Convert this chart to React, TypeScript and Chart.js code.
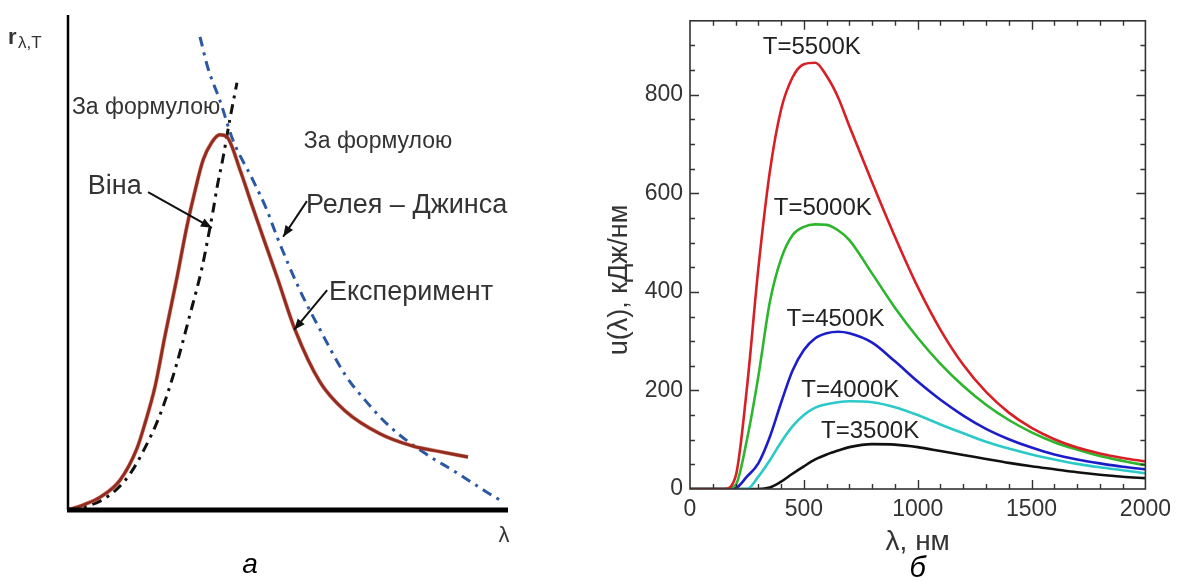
import React, { useEffect, useRef } from "react";
import { Chart, registerables } from "chart.js";
Chart.register(...registerables);

// ---------- Chart (а): schematic, arbitrary units ----------
const expX = [0, 3.4, 7.3, 11.8, 15.7, 17.5, 19.8, 22.0, 24.8, 27.0, 28.9, 30.7, 32.7, 34.5, 36.1, 39.1, 41.8, 44.3, 47.5, 51.6, 57.3, 63.0, 70.9, 78.4, 84.5, 90.9];
const expY = [0, 1.0, 2.6, 6.0, 12.5, 17.5, 25.0, 35.0, 47.1, 57.2, 64.6, 70.7, 74.3, 75.8, 75.4, 68.7, 61.6, 55.2, 47.1, 36.4, 25.8, 20.0, 15.4, 12.9, 11.8, 10.7];
const wienX = [0, 4.3, 7.3, 11.1, 14.1, 17.0, 20.9, 24.3, 27.7, 30.5, 31.8, 33.0, 33.9, 35.2, 36.8, 38.4];
const wienY = [0, 0.8, 1.8, 4.2, 7.3, 11.7, 19.2, 28.3, 39.4, 49.1, 54.9, 60.6, 65.3, 71.0, 79.0, 86.3];
const rjX = [30.0, 31.8, 34.5, 37.5, 42.0, 45.2, 47.5, 52.7, 57.3, 63.0, 67.5, 73.2, 80.7, 88.4, 95.2, 98.9];
const rjY = [95.6, 89.3, 82.8, 74.7, 66.7, 60.6, 55.2, 44.4, 36.4, 27.3, 22.2, 16.8, 11.7, 7.5, 3.6, 1.6];

// annotation texts of chart (а) and their anchors (data units)
const leftTexts = ["За формулою", "Віна", "За формулою", "Релея – Джинса", "Експеримент"];
const leftTextX = [0.9, 4.5, 53.6, 54.1, 59.3];
const leftTextY = [81.2, 65.3, 74.5, 61.6, 44.0];
const leftTextSize = [23, 27, 23, 27, 27];
const arrowFromX = [18.2, 54.3, 58.9];
const arrowFromY = [64.2, 62.4, 44.4];
const arrowToX = [32.7, 48.9, 51.4];
const arrowToY = [57.0, 55.2, 36.4];

// ---------- Chart (б): spectral energy density ----------
const lambdaNm = [0, 100, 150, 200, 250, 300, 350, 400, 450, 500, 550, 600, 650, 700, 800, 900, 1000, 1100, 1200, 1300, 1400, 1500, 1600, 1700, 1800, 1900, 2000];
const u5500 = [0, 0, 0, 25, 205, 447, 642, 770, 835, 862, 865, 838, 795, 736, 622, 512, 410, 323, 252, 197, 155, 124, 101, 84, 72, 63, 56];
const u5000 = [0, 0, 0, 8, 100, 228, 378, 467, 515, 532, 537, 536, 525, 505, 437, 368, 307, 254, 209, 171, 140, 115, 95, 80, 67, 57, 48];
const u4500 = [0, 0, 0, 2, 25, 52, 105, 175, 240, 282, 306, 316, 319, 316, 297, 259, 218, 181, 149, 122, 101, 84, 70, 60, 52, 45, 40];
const u4000 = [0, 0, 0, 0, 0, 25, 58, 95, 127, 150, 165, 172, 176, 178, 176, 166, 150, 131, 113, 96, 82, 70, 60, 51, 44, 38, 32];
const u3500 = [0, 0, 0, 0, 0, 0, 3, 15, 31, 46, 60, 70, 78, 85, 91, 90, 85, 77, 69, 61, 53, 46, 40, 34, 29, 25, 22];
const seriesNames = ["T=5500K", "T=5000K", "T=4500K", "T=4000K", "T=3500K"];
const labelX = [535, 583, 639, 704, 791];
const labelY = [896, 570, 344, 200, 116];
const xTickValues = [0, 500, 1000, 1500, 2000];
const yTickValues = [0, 200, 400, 600, 800];

const FONT = "Arial, 'Liberation Sans', sans-serif";
const pts = (xs: number[], ys: number[]) => xs.map((x, i) => ({ x, y: ys[i] }));

function drawArrow(ctx: CanvasRenderingContext2D, x1: number, y1: number, x2: number, y2: number) {
  ctx.beginPath();
  ctx.moveTo(x1, y1);
  ctx.lineTo(x2, y2);
  ctx.stroke();
  const a = Math.atan2(y2 - y1, x2 - x1);
  const L = 11, W = 4.5;
  ctx.beginPath();
  ctx.moveTo(x2, y2);
  ctx.lineTo(x2 - L * Math.cos(a) + W * Math.sin(a), y2 - L * Math.sin(a) - W * Math.cos(a));
  ctx.lineTo(x2 - L * Math.cos(a) - W * Math.sin(a), y2 - L * Math.sin(a) + W * Math.cos(a));
  ctx.closePath();
  ctx.fill();
}

const leftPlugin = {
  id: "leftDecor",
  afterDatasetsDraw(chart: any) {
    const { ctx, chartArea: ca, scales } = chart;
    const xs = scales.x, ys = scales.y;
    ctx.save();
    // axes
    ctx.strokeStyle = "#000";
    ctx.lineWidth = 2.5;
    ctx.beginPath();
    ctx.moveTo(ca.left, ca.top);
    ctx.lineTo(ca.left, ca.bottom);
    ctx.stroke();
    ctx.lineWidth = 5;
    ctx.beginPath();
    ctx.moveTo(ca.left - 1, ca.bottom);
    ctx.lineTo(ca.right, ca.bottom);
    ctx.stroke();
    // texts
    ctx.fillStyle = "#333";
    ctx.textAlign = "left";
    ctx.textBaseline = "middle";
    leftTexts.forEach((t, i) => {
      ctx.font = `${leftTextSize[i]}px ${FONT}`;
      ctx.fillText(t, xs.getPixelForValue(leftTextX[i]), ys.getPixelForValue(leftTextY[i]));
    });
    // arrows
    ctx.strokeStyle = "#111";
    ctx.fillStyle = "#111";
    ctx.lineWidth = 2;
    arrowFromX.forEach((_, i) => {
      drawArrow(ctx, xs.getPixelForValue(arrowFromX[i]), ys.getPixelForValue(arrowFromY[i]), xs.getPixelForValue(arrowToX[i]), ys.getPixelForValue(arrowToY[i]));
    });
    // axis labels
    ctx.fillStyle = "#333";
    ctx.textBaseline = "alphabetic";
    ctx.font = `bold 22px ${FONT}`;
    ctx.fillText("r", ca.left - 60, ca.top + 29);
    ctx.font = `17px ${FONT}`;
    ctx.fillText("λ,T", ca.left - 50, ca.top + 33);
    ctx.font = `22px ${FONT}`;
    ctx.textAlign = "center";
    ctx.textBaseline = "middle";
    ctx.fillText("λ", ca.right - 4, ca.bottom + 26);
    ctx.font = `italic 28px ${FONT}`;
    ctx.fillStyle = "#000";
    ctx.fillText("а", xs.getPixelForValue(41.4), ca.bottom + 55);
    ctx.restore();
  },
};

const rightPlugin = {
  id: "rightDecor",
  afterDatasetsDraw(chart: any) {
    const { ctx, chartArea: ca, scales } = chart;
    const xs = scales.x, ys = scales.y;
    ctx.save();
    ctx.strokeStyle = "#333";
    ctx.lineWidth = 1.6;
    ctx.strokeRect(ca.left, ca.top, ca.right - ca.left, ca.bottom - ca.top);
    ctx.lineWidth = 1.4;
    ctx.beginPath();
    for (let v = 100; v < 2000; v += 100) {
      const px = Math.round(xs.getPixelForValue(v)) + 0.5;
      const len = v % 500 === 0 ? 9 : 5;
      ctx.moveTo(px, ca.bottom); ctx.lineTo(px, ca.bottom - len);
      ctx.moveTo(px, ca.top); ctx.lineTo(px, ca.top + len);
    }
    for (let v = 50; v < 950; v += 50) {
      const py = Math.round(ys.getPixelForValue(v)) + 0.5;
      const len = v % 200 === 0 ? 9 : 5;
      ctx.moveTo(ca.left, py); ctx.lineTo(ca.left + len, py);
      ctx.moveTo(ca.right, py); ctx.lineTo(ca.right - len, py);
    }
    ctx.stroke();
    // series labels
    ctx.fillStyle = "#222";
    ctx.font = `24px ${FONT}`;
    ctx.textAlign = "center";
    ctx.textBaseline = "middle";
    seriesNames.forEach((t, i) => {
      ctx.fillText(t, xs.getPixelForValue(labelX[i]), ys.getPixelForValue(labelY[i]));
    });
    // y title
    ctx.save();
    ctx.translate(ca.left - 70, ys.getPixelForValue(424));
    ctx.rotate(-Math.PI / 2);
    ctx.font = `27px ${FONT}`;
    ctx.fillStyle = "#333";
    ctx.fillText("u(λ), кДж/нм", 0, 0);
    ctx.restore();
    // caption
    ctx.font = `italic 29px ${FONT}`;
    ctx.fillStyle = "#000";
    ctx.fillText("б", (ca.left + ca.right) / 2, ca.bottom + 80);
    ctx.restore();
  },
};

function LeftChart() {
  const ref = useRef<HTMLCanvasElement>(null);
  useEffect(() => {
    const chart = new Chart(ref.current as HTMLCanvasElement, {
      type: "line",
      data: {
        datasets: [
          { data: pts(expX, expY), borderColor: "rgba(195,65,45,0.6)", borderWidth: 4 },
          { data: pts(expX, expY), borderColor: "#4a0d0a", borderWidth: 2.9 },
          { data: pts(wienX, wienY), borderColor: "#111", borderWidth: 3, borderDash: [10, 6, 3, 6] },
          { data: pts(rjX, rjY), borderColor: "#2b58a3", borderWidth: 3, borderDash: [10, 6, 3, 6] },
        ] as any,
      },
      options: {
        animation: false,
        responsive: false,
        devicePixelRatio: 1,
        layout: { padding: { left: 68, right: 81, top: 15, bottom: 71 } },
        elements: { point: { radius: 0 }, line: { cubicInterpolationMode: "monotone", fill: false } },
        scales: {
          x: { type: "linear", min: 0, max: 100, display: false },
          y: { type: "linear", min: 0, max: 100, display: false },
        },
        plugins: { legend: { display: false }, tooltip: { enabled: false } },
      } as any,
      plugins: [leftPlugin],
    });
    return () => chart.destroy();
  }, []);
  return <canvas ref={ref} width={589} height={581} style={{ position: "absolute", left: 0, top: 0 }} />;
}

function RightChart() {
  const ref = useRef<HTMLCanvasElement>(null);
  useEffect(() => {
    const colors = ["#d81f26", "#2db52d", "#1c1cc8", "#2cc9c9", "#111111"];
    const series = [u5500, u5000, u4500, u4000, u3500];
    const chart = new Chart(ref.current as HTMLCanvasElement, {
      type: "line",
      data: {
        datasets: series.map((s, i) => ({
          label: seriesNames[i],
          data: pts(lambdaNm, s),
          borderColor: colors[i],
          borderWidth: 2.6,
        })) as any,
      },
      options: {
        animation: false,
        responsive: false,
        devicePixelRatio: 1,
        layout: { padding: { left: 0, right: 28, top: 14, bottom: 0 } },
        elements: { point: { radius: 0 }, line: { cubicInterpolationMode: "monotone", fill: false } },
        scales: {
          x: {
            type: "linear",
            min: 0,
            max: 2000,
            afterBuildTicks: (s: any) => { s.ticks = xTickValues.map((v) => ({ value: v })); },
            afterFit: (s: any) => { s.height = 92; },
            grid: { display: false, drawTicks: false },
            border: { display: false },
            ticks: { padding: 7, color: "#333", font: { size: 23, family: FONT }, maxRotation: 0, autoSkip: false, callback: (v: any) => String(v) },
            title: { display: true, text: "λ, нм", color: "#333", font: { size: 28, family: FONT }, padding: { top: 0, bottom: 22 } },
          },
          y: {
            type: "linear",
            min: 0,
            max: 950,
            afterBuildTicks: (s: any) => { s.ticks = yTickValues.map((v) => ({ value: v })); },
            afterFit: (s: any) => { s.width = 101; },
            grid: { display: false, drawTicks: false },
            border: { display: false },
            ticks: { padding: 7, color: "#333", font: { size: 23, family: FONT }, callback: (v: any) => String(v) },
          },
        },
        plugins: { legend: { display: false }, tooltip: { enabled: false } },
      } as any,
      plugins: [rightPlugin],
    });
    return () => chart.destroy();
  }, []);
  return <canvas ref={ref} width={589} height={581} style={{ position: "absolute", left: 589, top: 0 }} />;
}

export default function App() {
  return (
    <div style={{ position: "fixed", left: 0, top: 0, width: 1178, height: 581, background: "#fff", overflow: "hidden" }}>
      <LeftChart />
      <RightChart />
    </div>
  );
}
